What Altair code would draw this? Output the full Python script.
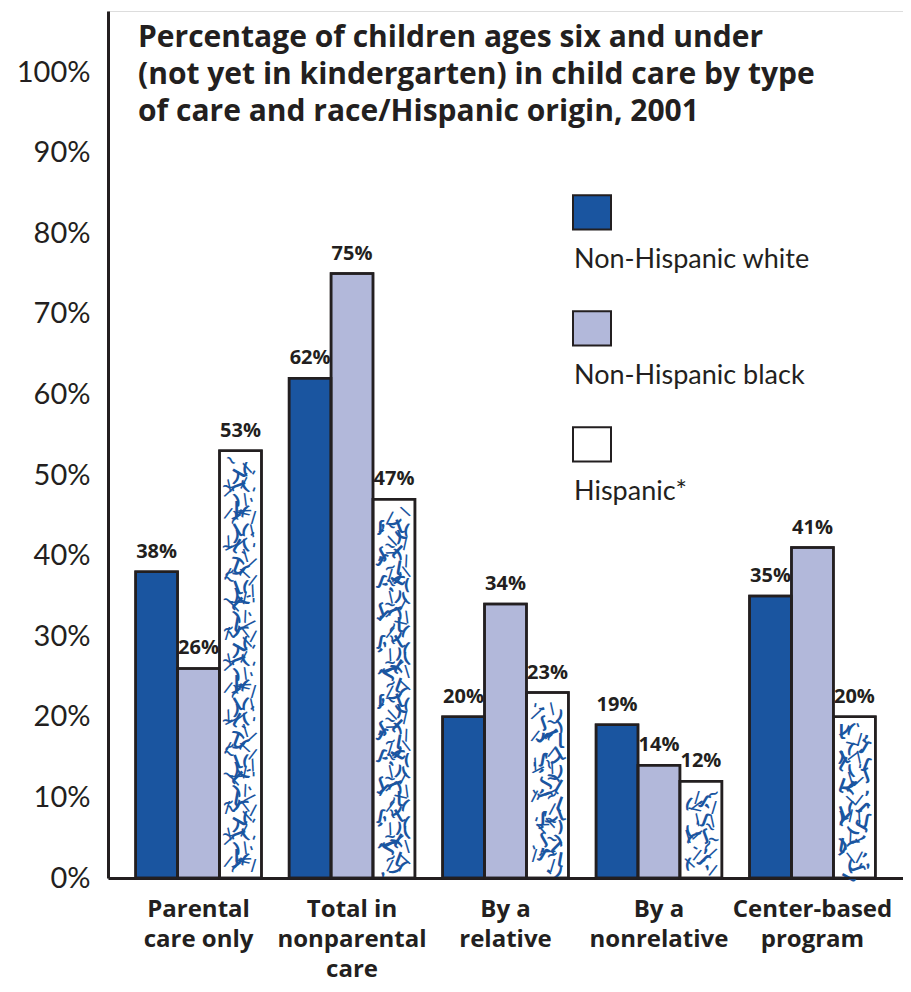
import altair as alt
import pandas as pd

# ---- data ----
categories = ["Parental|care only", "Total in|nonparental|care", "By a|relative",
              "By a|nonrelative", "Center-based|program"]
series = ["Non-Hispanic white", "Non-Hispanic black", "Hispanic*"]
white = [38, 62, 20, 19, 35]
black = [26, 75, 34, 14, 41]
hispanic = [53, 47, 23, 12, 20]
y_ticks = [0, 10, 20, 30, 40, 50, 60, 70, 80, 90, 100]
colors = ["#1a55a0", "#b2b8da", "#ffffff"]
title_lines = ["Percentage of children ages six and under",
               "(not yet in kindergarten) in child care by type",
               "of care and race/Hispanic origin, 2001"]

INK = "#231f20"
PATTERN_BLUE = "#1a55a0"
BOLD_FONT = "Open Sans"
REG_FONT = "Lato"

rows = []
for ci, c in enumerate(categories):
    for s, vals in zip(series, [white, black, hispanic]):
        rows.append({"category": c, "series": s, "value": vals[ci]})
df = pd.DataFrame(rows)

# texture (decorative fill pattern) for the Hispanic bars, derived from their values
glyphs = ["/", "(", "ʃ", ")", "'", "~", "\\", ",", "ɭ", "/"]
angles = [20, 340, 45, 10, 300, 70, 0, 330, 30]
tex_rows = []
for ci, c in enumerate(categories):
    v = hispanic[ci]
    k = 0
    while 1.5 + 1.2 * k < v - 1.1:
        for col in range(4):
            tex_rows.append({
                "category": c, "series": "Hispanic*", "value": 1.5 + 1.2 * k,
                "col": col,
                "glyph": glyphs[(k * 5 + col * 3 + ci * 7) % len(glyphs)],
                "angle": angles[(k * 4 + col * 2 + ci) % len(angles)],
            })
        k += 1
tex = pd.DataFrame(tex_rows)

x_enc = alt.X("category:N", sort=categories,
              scale=alt.Scale(paddingInner=0.18, paddingOuter=0.18),
              axis=alt.Axis(title=None, labelExpr="split(datum.label, '|')", labelAngle=0,
                            labelFont=BOLD_FONT, labelFontWeight="bold", labelFontSize=24,
                            labelColor=INK, labelPadding=19, labelBaseline="top",
                            labelLineHeight=30, ticks=False, domainWidth=3, domainColor=INK))
xo_enc = alt.XOffset("series:N", sort=series, scale=alt.Scale(paddingInner=0, paddingOuter=0))
y_enc = alt.Y("value:Q", scale=alt.Scale(domain=[0, 107.57], nice=False),
              axis=alt.Axis(title=None, values=y_ticks, labelExpr="datum.value + '%'",
                            ticks=False, grid=False, labelFont=REG_FONT, labelFontSize=29,
                            labelColor=INK, labelPadding=18, domainWidth=3, domainColor=INK))

color_enc = alt.Color("series:N", sort=series,
                      scale=alt.Scale(domain=series, range=colors),
                      legend=alt.Legend(orient="none", legendX=426, legendY=187, title=None,
                                        symbolType="M1,-1.2H3V0.6H1Z", symbolSize=1444,
                                        symbolStrokeColor=INK, symbolStrokeWidth=2,
                                        labelFont=REG_FONT, labelFontSize=27, labelColor=INK,
                                        labelExpr="['', datum.label]",
                                        labelBaseline="top",
                                        labelOffset=0, labelLimit=400,
                                        rowPadding=34))

base = alt.Chart(df).encode(x=x_enc, xOffset=xo_enc, y=y_enc)

bars = base.mark_bar(stroke=INK, strokeWidth=2.5).encode(fill=color_enc)

tex_layers = []
for col, dx in enumerate([-13, -4, 5, 13]):
    tex_layers.append(
        alt.Chart(tex).transform_filter(alt.datum.col == col)
        .mark_text(dx=dx, font="DejaVu Sans", fontWeight="bold", fontSize=15,
                   color=PATTERN_BLUE, baseline="middle")
        .encode(x=alt.X("category:N", sort=categories), xOffset=alt.XOffset("series:N", sort=series),
                y="value:Q", text="glyph:N", angle=alt.Angle("angle:Q", scale=None))
    )

outline = base.mark_bar(stroke=INK, strokeWidth=2.5, fillOpacity=0)

labels = base.transform_calculate(label="datum.value + '%'").mark_text(
    baseline="bottom", dy=-10, font=BOLD_FONT, fontWeight="bold", fontSize=20, color=INK
).encode(text="label:N")

chart = alt.layer(bars, *tex_layers, outline, labels).properties(
    width=795, height=867,
    autosize=alt.AutoSizeParams(type="none"),
    padding={"left": 100, "top": 3, "right": 0, "bottom": 108},
    title=alt.TitleParams(text=title_lines, anchor="start", frame="group", font=BOLD_FONT,
                          fontSize=30, fontWeight="bold", color=INK, dx=30, offset=-116,
                          baseline="top", lineHeight=37),
).configure_view(stroke=None).configure(background="white")

chart.save("out.html", embed_options={"renderer": "svg", "actions": False})
